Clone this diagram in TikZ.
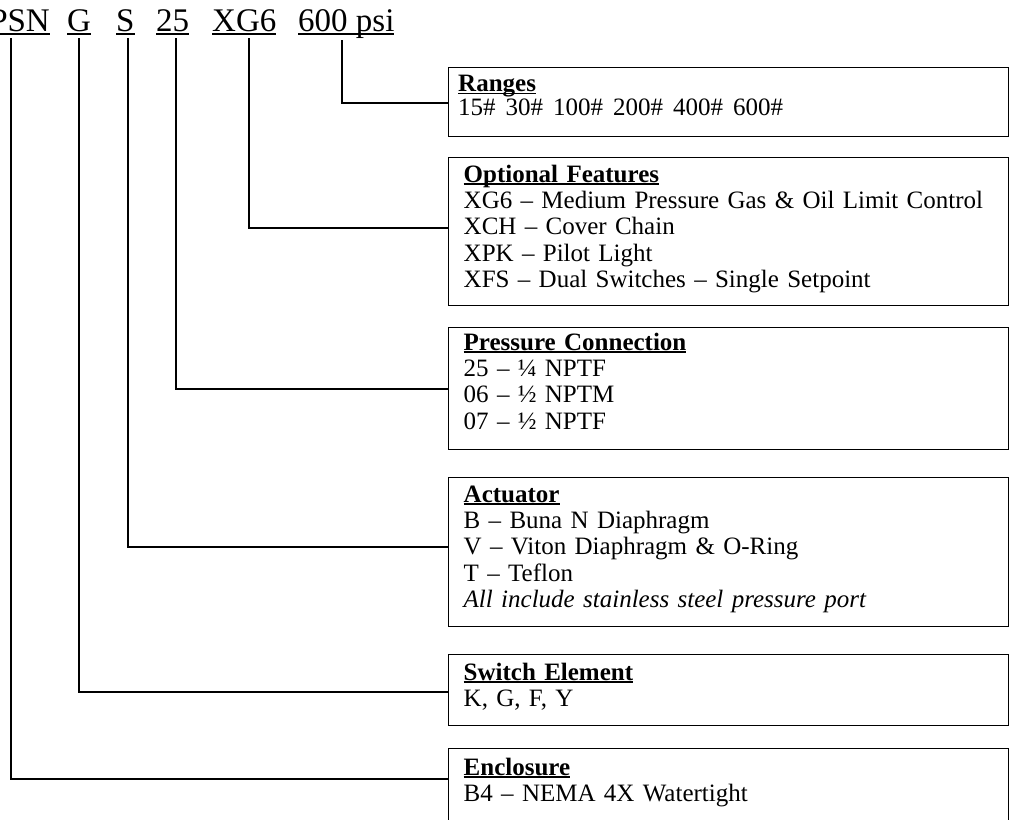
\documentclass[tikz,border=0pt]{standalone}
\usepackage{fontspec}
\setmainfont{Liberation Serif}
\usetikzlibrary{positioning}
\newsavebox{\ulbox}
\newcommand{\ulin}[2][2.3pt]{\sbox\ulbox{#2}\rlap{\rule[-#1]{\wd\ulbox}{1.3pt}}\usebox\ulbox}

\begin{document}
\begin{tikzpicture}[x=1pt,y=-1pt,
	word/.style={inner sep=0pt, text depth=0pt, font=\fontsize{33}{36}\selectfont},
	codebox/.style={draw, line width=1.2pt, anchor=north west, inner sep=0pt, minimum width=560.5pt},
	boxtext/.style={anchor=north west, inner sep=0pt, text width=530pt, align=left, font=\fontsize{25}{26.3}\selectfont},
	link/.style={line width=2pt}]
		\useasboundingbox (0,0) rectangle (1009,819);
		% part number
		\node[word, anchor=base east] (psn) at (50,31) {\ulin[3.5pt]{PSN}};
		\node[word, anchor=base west] (elem) at (67,31) {\ulin[3.5pt]{G}};
		\node[word, anchor=base west] (act) at (116,31) {\ulin[3.5pt]{S}};
		\node[word, anchor=base west] (conn) at (156,31) {\ulin[3.5pt]{25}};
		\node[word, anchor=base west] (opt) at (212,31) {\ulin[3.5pt]{XG6}};
		\node[word, anchor=base west] (psi) at (298,31) {\ulin[3.5pt]{600 psi}};
		% boxes
		\node[codebox, minimum height=69pt] (rng) at (447.5,66.7) {};
		\node[codebox, minimum height=148pt] (feat) at (447.5,157) {};
		\node[codebox, minimum height=122pt] (pres) at (447.5,327) {};
		\node[codebox, minimum height=149pt] (actu) at (447.5,477) {};
		\node[codebox, minimum height=71pt] (swel) at (447.5,654) {};
		\node[codebox, minimum height=100pt] (encl) at (447.5,748) {};
		% box texts
		\node[boxtext, font=\fontsize{25}{22}\selectfont] (rng-txt) at ([xshift=10.5pt,yshift=-5pt]rng.north west)
			{\rule{0pt}{20pt}\textbf{\ulin{Ranges}}\\ 15\#\hspace{0.4em}30\#\hspace{0.4em}100\#\hspace{0.4em}200\#\hspace{0.4em}400\#\hspace{0.4em}600\#};
		\node[boxtext] (feat-txt) at ([xshift=16pt,yshift=-5pt]feat.north west)
			{\rule{0pt}{20pt}\textbf{\ulin{Optional Features}}\\ XG6 -- Medium Pressure Gas \& Oil Limit Control\\ XCH -- Cover Chain\\ XPK -- Pilot Light\\ XFS -- Dual Switches -- Single Setpoint};
		\node[boxtext] (pres-txt) at ([xshift=16pt,yshift=-3pt]pres.north west)
			{\rule{0pt}{20pt}\textbf{\ulin{Pressure Connection}}\\ 25 -- ¼ NPTF\\ 06 -- ½ NPTM\\ 07 -- ½ NPTF};
		\node[boxtext] (actu-txt) at ([xshift=16pt,yshift=-5pt]actu.north west)
			{\rule{0pt}{20pt}\textbf{\ulin{Actuator}}\\ B -- Buna N Diaphragm\\ V -- Viton Diaphragm \& O-Ring\\ T -- Teflon\\ \textit{All include stainless steel pressure port}};
		\node[boxtext] (swel-txt) at ([xshift=16pt,yshift=-6pt]swel.north west)
			{\rule{0pt}{20pt}\textbf{\ulin{Switch Element}}\\ K, G, F, Y};
		\node[boxtext] (encl-txt) at ([xshift=16pt,yshift=-7pt]encl.north west)
			{\rule{0pt}{20pt}\textbf{\ulin{Enclosure}}\\ B4 -- NEMA 4X Watertight};
		% leader lines
		\draw[link] ([xshift=-4pt,yshift=-9pt]psi.south) |- ([yshift=-1.6pt]rng.west);
		\draw[link] ([xshift=4.5pt,yshift=-7pt]opt.south) |- ([yshift=4pt]feat.west);
		\draw[link] ([xshift=3pt,yshift=-7pt]conn.south) |- (pres.west);
		\draw[link] ([xshift=2.5pt,yshift=-7pt]act.south) |- ([yshift=5.5pt]actu.west);
		\draw[link] ([yshift=-7pt]elem.south) |- ([yshift=-2pt]swel.west);
		\draw[link] ([xshift=-8.5pt,yshift=-7pt]psn.south) |- ([yshift=-31pt]encl.north west);
\end{tikzpicture}
\end{document}
